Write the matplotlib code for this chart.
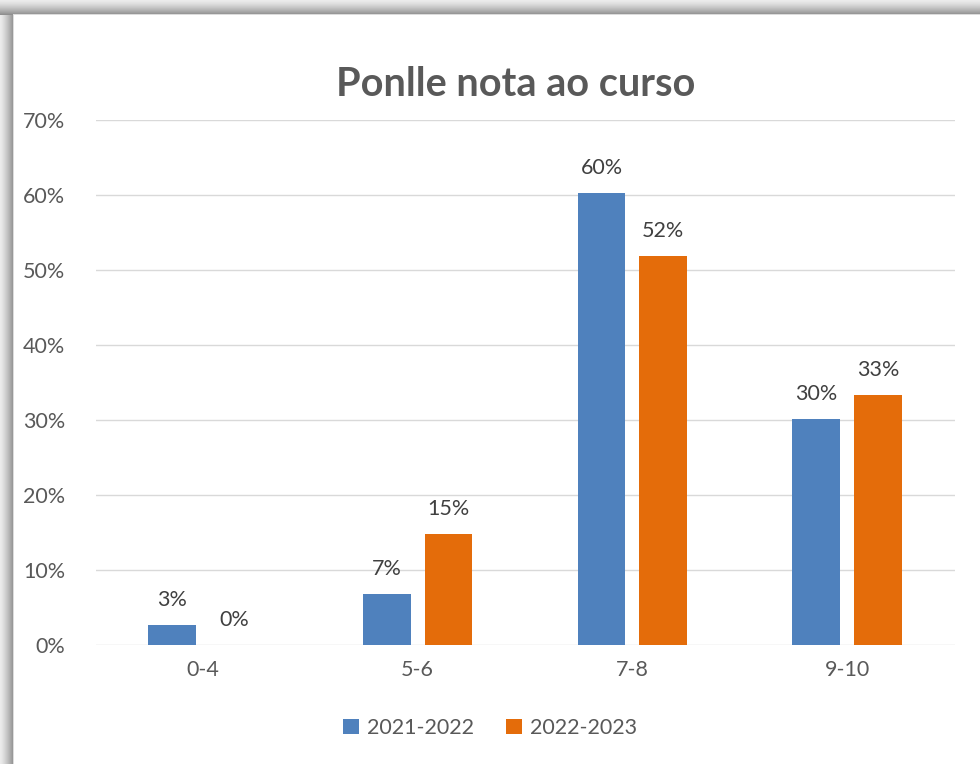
import numpy as np
import matplotlib
matplotlib.use('Agg')
import matplotlib.pyplot as plt
from matplotlib.ticker import FuncFormatter

categories = ['0-4', '5-6', '7-8', '9-10']
series_names = ['2021-2022', '2022-2023']
vals_2122 = [2.7, 6.8, 60.3, 30.1]
vals_2223 = [0.0, 14.8, 51.9, 33.3]
labels_2122 = ['3%', '7%', '60%', '30%']
labels_2223 = ['0%', '15%', '52%', '33%']
colors = ['#4f81bd', '#e46c0a']

plt.rcParams['font.family'] = ['Lato', 'DejaVu Sans']

W, H = 980, 764
fig = plt.figure(figsize=(W / 100, H / 100), dpi=100)

# shadow frame (top and left) behind the white chart area
bg = fig.add_axes([0, 0, 1, 1], zorder=-10)
img = np.ones((H, W))
top, left = 15, 14
for i in range(top):
    t = i / (top - 1)
    img[i, :] = 0.92 - 0.36 * t ** 1.3
for j in range(left):
    t = j / (left - 1)
    img[top:, j] = np.minimum(img[top:, j], 0.92 - 0.36 * t ** 1.3)
img[top - 1, left - 1:] = 0.86
img[top - 1:, left - 1] = 0.86
bg.imshow(img, cmap='gray', vmin=0, vmax=1, aspect='auto', interpolation='nearest')
bg.axis('off')

ax = fig.add_axes([95.5 / W, 1 - 645 / H, (954.5 - 95.5) / W, (645 - 120) / H])
ax.set_facecolor('none')

x = np.arange(len(categories))
w = 0.223
off = 0.144
b1 = ax.bar(x - off, vals_2122, w, color=colors[0], label=series_names[0], zorder=3)
b2 = ax.bar(x + off, vals_2223, w, color=colors[1], label=series_names[1], zorder=3)

for bars, labs in [(b1, labels_2122), (b2, labels_2223)]:
    for rect, lab in zip(bars, labs):
        ax.text(rect.get_x() + rect.get_width() / 2, rect.get_height() + 2.0, lab,
                ha='center', va='bottom', fontsize=15.5, color='#404040')

ax.set_xlim(-0.5, len(categories) - 0.5)
ax.set_ylim(0, 70)
ax.set_yticks(np.arange(0, 71, 10))
ax.yaxis.set_major_formatter(FuncFormatter(lambda v, p: f'{int(v)}%'))
ax.set_xticks(x)
ax.set_xticklabels(categories)
ax.tick_params(axis='both', length=0, labelsize=15.5, labelcolor='#595959')
ax.tick_params(axis='y', pad=22)
ax.tick_params(axis='x', pad=11)
ax.grid(axis='y', color='#d9d9d9', linewidth=1, zorder=0)
for s in ax.spines.values():
    s.set_visible(False)

fig.text(0.526, 1 - 84 / H, 'Ponlle nota ao curso', ha='center', va='center',
         fontsize=28.5, fontweight='bold', color='#595959')

fig.legend(loc='center', bbox_to_anchor=(0.5, 1 - 728 / H), ncol=2, frameon=False,
           fontsize=15.5, handlelength=0.75, handleheight=0.75, handletextpad=0.35,
           columnspacing=1.5, labelcolor='#595959')

fig.savefig('out.png', dpi=100)
